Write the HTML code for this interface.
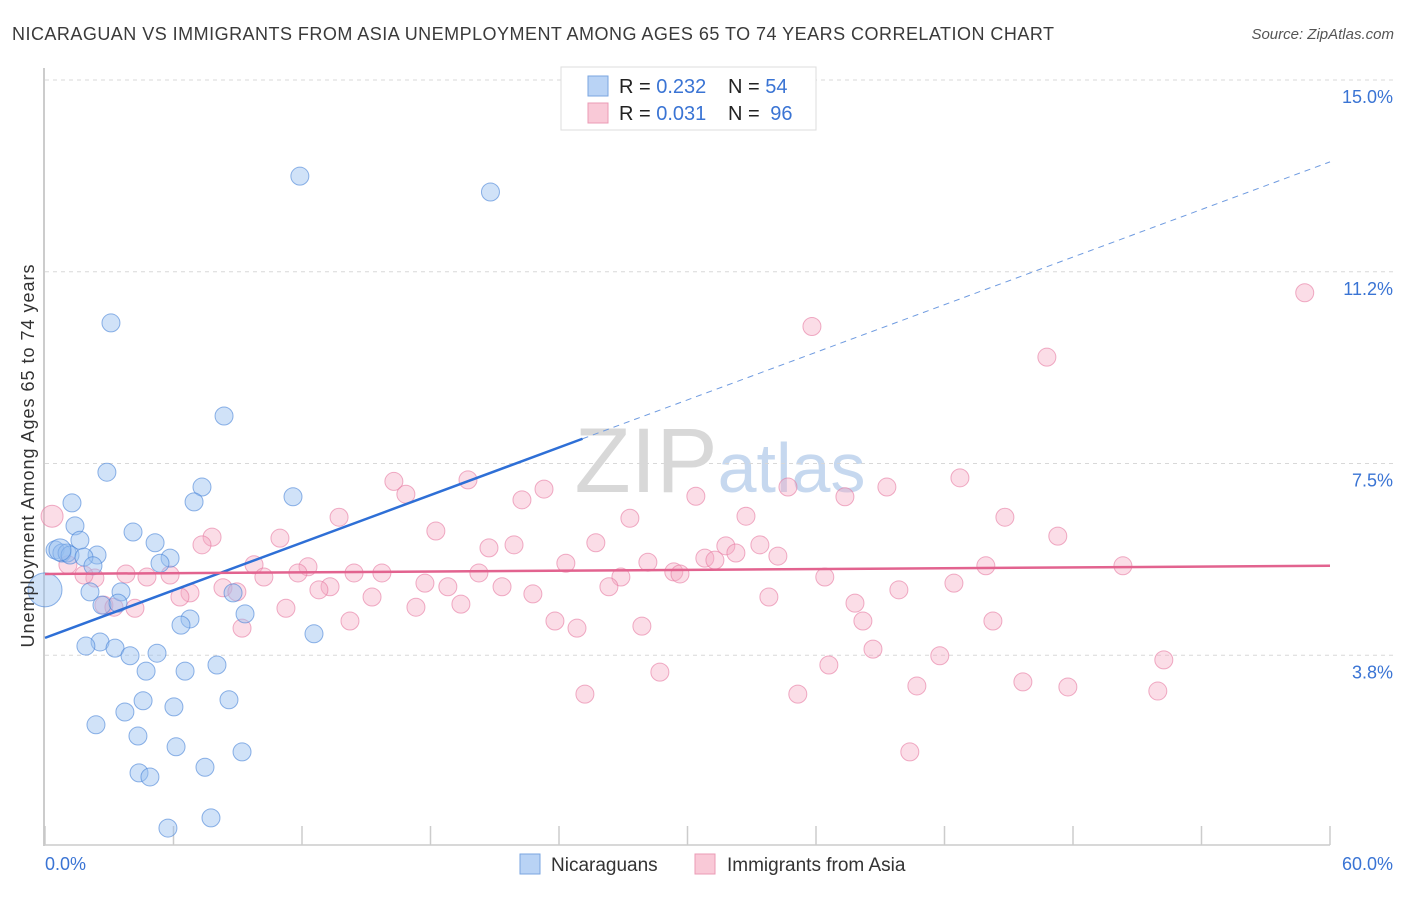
<!DOCTYPE html>
<html><head><meta charset="utf-8"><style>
body{margin:0;background:#fff;font-family:"Liberation Sans",sans-serif;}
svg text{font-family:"Liberation Sans",sans-serif;}
</style></head><body>
<svg id="chart" width="1406" height="892" viewBox="0 0 1406 892" xmlns="http://www.w3.org/2000/svg">
<text x="12" y="40" font-size="18" fill="#3a3a3a" textLength="1042" lengthAdjust="spacing">NICARAGUAN VS IMMIGRANTS FROM ASIA UNEMPLOYMENT AMONG AGES 65 TO 74 YEARS CORRELATION CHART</text>
<text x="1394" y="39" font-size="15" fill="#555" font-style="italic" text-anchor="end">Source: ZipAtlas.com</text>
<text x="720" y="492" font-size="92" fill="#dde3ea" text-anchor="middle" font-family="Liberation Serif, serif"><tspan fill="#d8d8d8">ZIP</tspan><tspan fill="#c6d8ef" font-family="Liberation Sans, sans-serif" font-size="70">atlas</tspan></text>
<g id="grid"></g>
<g id="axes"></g>
<g id="pink"></g>
<g id="blue"></g>
<g id="trends"></g>
<text transform="translate(34,456) rotate(-90)" font-size="18" fill="#333" text-anchor="middle" textLength="383" lengthAdjust="spacing">Unemployment Among Ages 65 to 74 years</text>
<g>
<rect x="561" y="67" width="255" height="63" fill="#fff" stroke="#ddd"/>
<rect x="588" y="76" width="20" height="20" fill="#b9d3f5" stroke="#7aa6e0"/>
<rect x="588" y="103" width="20" height="20" fill="#f9c9d7" stroke="#eb9bb5"/>
<text x="619" y="93" font-size="20" fill="#222">R = <tspan fill="#3a74d4">0.232</tspan><tspan x="728">N = </tspan><tspan fill="#3a74d4">54</tspan></text>
<text x="619" y="120" font-size="20" fill="#222">R = <tspan fill="#3a74d4">0.031</tspan><tspan x="728">N = </tspan><tspan fill="#3a74d4" dx="5">96</tspan></text>
</g>
<g>
<rect x="520" y="854" width="20" height="20" fill="#b9d3f5" stroke="#7aa6e0"/>
<text x="551" y="871" font-size="19" fill="#333">Nicaraguans</text>
<rect x="695" y="854" width="20" height="20" fill="#f9c9d7" stroke="#eb9bb5"/>
<text x="727" y="871" font-size="19" fill="#333">Immigrants from Asia</text>
</g>
</svg>
<script>
const yTicks=[3.75,7.5,11.25,15];
const yTickLabels=["3.8%","7.5%","11.2%","15.0%"];
const xTicks=[0,6,12,18,24,30,36,42,48,54,60];
const blueX=[11.9,20.8,3.08,8.36,2.89,1.26,7.33,6.96,11.58,1.40,4.11,1.63,5.14,0.47,0.79,1.03,1.17,2.43,1.82,5.84,5.37,2.24,2.10,3.55,8.78,2.66,3.41,9.34,6.77,6.35,12.56,2.57,1.91,3.27,3.97,5.23,8.03,4.72,6.54,4.58,8.59,6.02,3.73,2.38,4.34,6.12,9.20,7.47,4.39,4.90,7.75,5.74,0,0.7];
const blueY=[13.12,12.81,10.25,8.43,7.33,6.73,7.04,6.75,6.85,6.28,6.16,6.00,5.95,5.81,5.75,5.75,5.71,5.71,5.67,5.65,5.55,5.50,4.99,4.99,4.97,4.73,4.77,4.56,4.46,4.34,4.17,4.01,3.93,3.89,3.74,3.79,3.56,3.44,3.44,2.86,2.88,2.74,2.64,2.39,2.17,1.96,1.86,1.56,1.45,1.37,0.57,0.37,5.03,5.81];
const pinkX=[0.33,58.82,35.81,46.78,16.29,19.75,42.72,16.85,23.30,22.27,30.39,39.31,34.69,37.35,13.73,44.82,27.31,32.73,18.25,47.29,7.80,10.97,7.33,25.72,20.73,21.90,33.38,31.79,32.26,34.22,30.81,31.28,28.15,24.32,9.76,12.28,29.36,43.93,50.33,11.81,14.43,15.73,20.26,3.78,5.84,4.76,2.33,10.22,26.89,29.65,36.41,1.07,1.82,17.74,18.81,21.34,13.31,12.79,8.31,42.44,26.33,8.96,6.77,6.30,15.27,22.78,39.87,33.80,2.75,3.22,4.20,37.82,19.42,17.32,11.25,14.24,23.81,38.19,44.26,9.20,24.84,27.87,38.66,41.78,52.24,36.60,28.71,45.66,40.71,47.76,25.21,35.15,51.96,40.38];
const pinkY=[6.47,10.84,10.18,9.58,7.15,7.18,7.22,6.90,7.00,6.79,6.86,7.04,7.04,6.85,6.45,6.45,6.43,6.47,6.18,6.08,6.06,6.04,5.91,5.95,5.85,5.91,5.91,5.89,5.75,5.69,5.65,5.61,5.57,5.55,5.52,5.48,5.38,5.50,5.50,5.36,5.36,5.36,5.36,5.34,5.32,5.28,5.26,5.28,5.28,5.34,5.28,5.52,5.32,5.16,5.09,5.09,5.09,5.03,5.07,5.16,5.09,4.99,4.97,4.89,4.89,4.95,5.03,4.89,4.73,4.69,4.67,4.77,4.75,4.69,4.67,4.42,4.42,4.42,4.42,4.28,4.28,4.32,3.87,3.74,3.66,3.56,3.42,3.23,3.15,3.13,2.99,2.99,3.05,1.86];
const blueTrend=[4.09,13.40];
const pinkTrend=[5.34,5.50];
const blueSolidEnd=25.1;

const NS="http://www.w3.org/2000/svg";
function sx(v){return 45+v/60*1285;}
function sy(v){return 847-v*51.13;}
function mk(tag,attrs,parent){const e=document.createElementNS(NS,tag);for(const k in attrs)e.setAttribute(k,attrs[k]);document.getElementById(parent).appendChild(e);return e;}

yTicks.forEach((t,i)=>{
  const l=mk('line',{x1:45,x2:1393,y1:sy(t),y2:sy(t),stroke:'#d8d8d8','stroke-dasharray':'4,4'},'grid');
  
  
  const tx=mk('text',{x:1393,y:sy(t)+23,'font-size':18,fill:'#3a74d4','text-anchor':'end'},'grid');
  tx.textContent=yTickLabels[i];
  
  
});
const ya=mk('line',{x1:44,x2:44,y1:68,y2:846,stroke:'#bbb','stroke-width':1.5},'axes');


const xa=mk('line',{x1:44,x2:1330,y1:845,y2:845,stroke:'#ccc','stroke-width':1.5},'axes');


xTicks.forEach(t=>{
  const l=mk('line',{x1:sx(t),x2:sx(t),y1:826,y2:845,stroke:'#ccc','stroke-width':1.5},'axes');
  
  
});
const x0=mk('text',{x:45,y:870,'font-size':18,fill:'#3a74d4'},'axes');x0.textContent='0.0%';


const x1=mk('text',{x:1393,y:870,'font-size':18,fill:'#3a74d4','text-anchor':'end'},'axes');x1.textContent='60.0%';



pinkX.forEach((x,i)=>{
  const c=mk('circle',{cx:sx(x),cy:sy(pinkY[i]),r:i===0?11:9,fill:'rgba(245,170,195,0.4)',stroke:'rgba(230,120,160,0.6)','stroke-width':1},'pink');
  
  
});
blueX.forEach((x,i)=>{
  const r=i===52?17:(i===53?11:9);
  const c=mk('circle',{cx:sx(x),cy:sy(blueY[i]),r:r,fill:'rgba(150,190,240,0.45)',stroke:'rgba(70,130,215,0.6)','stroke-width':1},'blue');
  
  
});
function by(x){return blueTrend[0]+(blueTrend[1]-blueTrend[0])*x/60;}
const bs=mk('line',{x1:sx(0),y1:sy(by(0)),x2:sx(blueSolidEnd),y2:sy(by(blueSolidEnd)),stroke:'#2e6fd6','stroke-width':2.5},'trends');


const bd=mk('line',{x1:sx(blueSolidEnd),y1:sy(by(blueSolidEnd)),x2:sx(60),y2:sy(by(60)),stroke:'#6f9be0','stroke-width':1,'stroke-dasharray':'6,5'},'trends');


const pl=mk('line',{x1:sx(0),y1:sy(pinkTrend[0]),x2:sx(60),y2:sy(pinkTrend[1]),stroke:'#e2638f','stroke-width':2.5},'trends');


</script>
</body></html>
